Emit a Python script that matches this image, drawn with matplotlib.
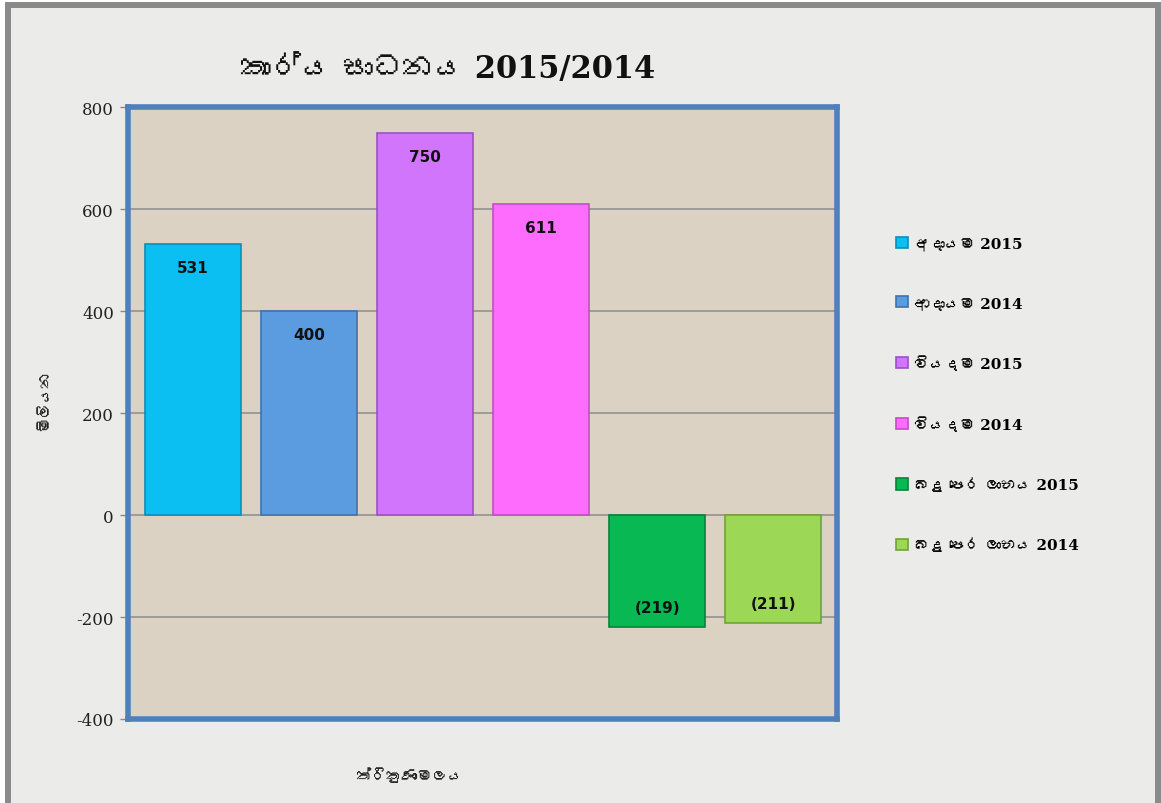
import matplotlib
matplotlib.use('Agg')
import matplotlib.pyplot as plt
from matplotlib import font_manager, ft2font
from matplotlib.patches import Rectangle

# Chart values
categories = ['අදායම 2015', 'ආදායම 2014', 'වියදම 2015', 'වියදම 2014',
              'බදු පෙර ලාභය 2015', 'බදු පෙර ලාභය 2014']
values = [531, 400, 750, 611, -219, -211]
value_labels = ['531', '400', '750', '611', '(219)', '(211)']
colors = ['#0bbff3', '#5b9be0', '#d175fc', '#fd6cfd', '#07b853', '#9dd756']
edges = ['#0a8fb8', '#3f73ad', '#9b52c0', '#c24ec2', '#05843b', '#6fa33a']
yticks = [-400, -200, 0, 200, 400, 600, 800]

TITLE = 'කාර්ය සාධනය 2015/2014'
YLABEL = 'මිලියන'
XLABEL = 'ත්‍රිකුණාමලය'


def sinhala_family():
    """Look for an installed font with Sinhala glyphs, if any."""
    for f in font_manager.fontManager.ttflist:
        try:
            if 0x0D9A in ft2font.FT2Font(f.fname).get_charmap():
                return f.name
        except Exception:
            pass
    return None


sin = sinhala_family()
serif = ['DejaVu Serif'] if sin is None else ['DejaVu Serif', sin]
plt.rcParams['font.family'] = serif

fig = plt.figure(figsize=(11.61, 8.04), dpi=100, facecolor='white')

# outer frame of the picture, light grey paper with a grey border
fig.patches.append(Rectangle((8 / 1161, -0.05), 1150 / 1161, 1.05 - 6 / 804,
                             transform=fig.transFigure, facecolor='#ebebea',
                             edgecolor='#8a8a8a', linewidth=4.3, zorder=-10))

ax = fig.add_axes([0.110, 0.1045, 0.611, 0.761])
ax.set_facecolor('#dbd2c4')

x = list(range(len(values)))
ax.bar(x, values, width=0.83, color=colors, edgecolor=edges, linewidth=1.2,
       label=categories, zorder=3)

for xi, v, lab in zip(x, values, value_labels):
    off = -17 if v > 0 else 14
    ax.annotate(lab, (xi, v), xytext=(0, off), textcoords='offset points',
                ha='center', va='center', fontsize=11, fontweight='bold',
                family='DejaVu Sans', color='#111111', zorder=4)

ax.set_xlim(-0.56, 5.55)
ax.set_ylim(-400, 800)
ax.set_yticks(yticks)
ax.set_yticklabels([str(t) for t in yticks], fontsize=12, color='#222222')
ax.set_xticks([])
ax.tick_params(axis='y', length=6, width=1, color='#888888', pad=4)
ax.yaxis.grid(True, color='#8c8c8c', linewidth=1.1, zorder=1)
ax.set_axisbelow(True)
for s in ax.spines.values():
    s.set_color('#4f7fbd')
    s.set_linewidth(4)

fig.text(0.386, 0.913, TITLE, ha='center', va='center', fontsize=22,
         fontweight='bold', color='#111111')
fig.text(0.039, 0.502, YLABEL, rotation=90, ha='center', va='center',
         fontsize=11, fontweight='bold', color='#222222')
fig.text(0.353, 0.034, XLABEL, ha='center', va='center', fontsize=11,
         fontweight='bold', color='#222222')

fig.legend(loc='center left', bbox_to_anchor=(0.772, 0.508), frameon=False,
           prop={'weight': 'bold', 'size': 11},
           handlelength=0.75, handleheight=0.75, handletextpad=0.4,
           labelspacing=2.97, borderpad=0, borderaxespad=0)

fig.savefig('out.png', dpi=100, facecolor=fig.get_facecolor())
